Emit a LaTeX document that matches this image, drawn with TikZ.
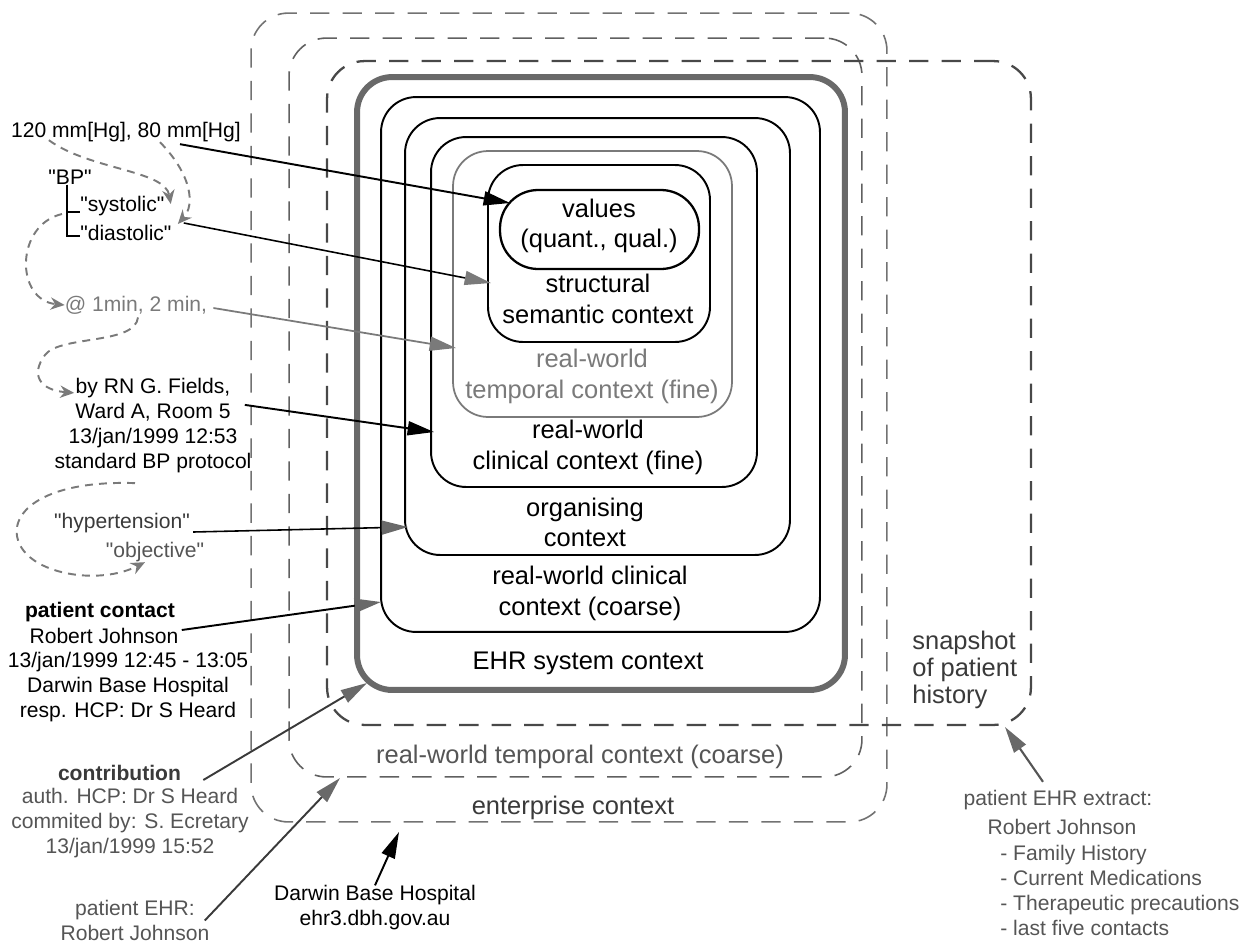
\documentclass[tikz,border=0pt]{standalone}
\usepackage{fontspec}
\setmainfont{Liberation Sans}
\usetikzlibrary{arrows.meta,calc}
\definecolor{dashA}{HTML}{727272}
\definecolor{dashB}{HTML}{606060}
\definecolor{dashC}{HTML}{484848}
\definecolor{thickgray}{HTML}{696969}
\definecolor{midgray}{HTML}{7A7A7A}
\definecolor{darkgrayB}{HTML}{3A3A3A}
\definecolor{txtgray}{HTML}{555555}
\newcommand{\qq}[1]{\textquotedbl#1\textquotedbl}
\begin{document}
\begin{tikzpicture}[x=0.02cm,y=-0.02cm,
  ctx/.style={draw=black,line width=1.1pt,rounded corners=0.7cm,inner sep=0pt},
  dbox/.style={draw=#1,line width=0.9pt,dash pattern=on 11pt off 7.5pt,rounded corners=0.75cm,inner sep=0pt},
  blab/.style={font=\fontsize{14.5}{17.5}\selectfont,align=center,inner sep=0pt},
  slab/.style={font=\fontsize{12}{14.2}\selectfont,align=center,inner sep=0pt},
  arrK/.style={line width=1.1pt,-{Triangle[length=15pt,width=8pt]}},
  dcurve/.style={draw=midgray,line width=1.1pt,dash pattern=on 4.5pt off 3.5pt,-{Stealth[length=8pt,width=7pt]}}
]
\useasboundingbox (0,0) rectangle (1254,947);

% ---- dashed context boxes
\node[dbox=dashA, minimum width=12.72cm, minimum height=16.18cm] (enterprise) at (569,417.5) {};
\node[dbox=dashB, minimum width=11.46cm, minimum height=14.78cm] (tempcoarse) at (575.5,407.5) {};
\node[dbox=dashC, line width=1.3pt, minimum width=14.08cm, minimum height=13.28cm] (snapshot) at (679,393) {};

% ---- solid context boxes
\node[ctx, draw=thickgray, line width=3.4pt, minimum width=9.76cm, minimum height=12.26cm] (ehr) at (601,383.5) {};
\node[ctx, minimum width=8.78cm, minimum height=10.70cm] (clincoarse) at (600.5,364.5) {};
\node[ctx, minimum width=7.70cm, minimum height=8.74cm] (organising) at (597.5,336.5) {};
\node[ctx, minimum width=6.52cm, minimum height=7.00cm] (clinfine) at (594,312) {};
\node[ctx, draw=midgray, line width=1pt, minimum width=5.58cm, minimum height=5.32cm] (tempfine) at (592.5,284) {};
\node[ctx, minimum width=4.44cm, minimum height=3.54cm] (structural) at (599,253.5) {};
\node[ctx, line width=1.3pt, rounded corners=0.76cm, minimum width=3.98cm, minimum height=1.58cm] (values) at (599.5,229.5) {};

% ---- box labels
\node[blab] (lval) at (599,226) {values\\(quant., qual.)};
\node[blab] (lstruct) at (598,299) {structural\\semantic context};
\node[blab, text=midgray] (ltfine) at (592,376.5) {real-world\\temporal context (fine)};
\node[blab] (lcfine) at (588,447.5) {real-world\\clinical context (fine)};
\node[blab] (lorg) at (585,522.5) {organising\\context};
\node[blab] (lccoarse) at (590,593.5) {real-world clinical\\context (coarse)};
\node[blab] (lehr) at (588,663) {EHR system context};
\node[blab, text=txtgray] (ltcoarse) at (580,757) {real-world temporal context (coarse)};
\node[blab, text=darkgrayB] (lent) at (573,808) {enterprise context};
\node[blab, text=darkgrayB, align=left, font=\fontsize{14.5}{15.4}\selectfont, anchor=west] (lsnap) at (912,670) {snapshot\\of patient\\history};

% ---- left side labels
\node[slab] (t120) at (126,132) {120 mm[Hg], 80 mm[Hg]};
\node[slab] (tbp) at (70,177) {\qq{BP}};
\node[slab, anchor=west] (tsys) at (80,206) {\qq{systolic}};
\node[slab, anchor=west] (tdia) at (80,233) {\qq{diastolic}};
\node[slab, text=midgray] (tmin) at (136,305) {@ 1min, 2 min,};
\node[slab] (tfields) at (153,425.5) {by RN G. Fields,\\Ward A, Room 5\\13/jan/1999 12:53\\standard BP protocol};
\node[slab, text=darkgrayB] (thyp) at (122,523) {\qq{hypertension}};
\node[slab, text=txtgray] (tobj) at (155,552) {\qq{objective}};
\node[slab, font=\fontsize{12}{14.2}\selectfont\bfseries] (tpc1) at (100,612) {patient contact};
\node[slab] (tpc2) at (104,636) {Robert Johnson};
\node[slab] (tpc3) at (128,687) {13/jan/1999 12:45 - 13:05\\Darwin Base Hospital\\resp. HCP: Dr S Heard};
\node[slab, text=darkgrayB, font=\fontsize{12}{14.2}\selectfont\bfseries] (tcon1) at (119.5,773) {contribution};
\node[slab, text=txtgray] (tcon2) at (130,823) {auth. HCP: Dr S Heard\\commited by: S. Ecretary\\13/jan/1999 15:52};
\node[slab, text=txtgray] (tehr) at (135,920.5) {patient EHR:\\Robert Johnson};
\node[slab] (tdbh) at (375,908) {Darwin Base Hospital\\ehr3.dbh.gov.au};
\node[slab, text=txtgray] (tx1) at (1058,800) {patient EHR extract:};
\node[slab, text=txtgray] (tx2) at (1062,827) {Robert Johnson};
\node[slab, text=txtgray, align=left, anchor=west] (tx3) at (1000,890.5) {- Family History\\- Current Medications\\- Therapeutic precautions\\- last five contacts};

% ---- BP tree
\draw[line width=0.8pt] ($(tbp.south)+(-3,0)$) |- ($(tdia.west)+(0,3)$);
\draw[line width=0.8pt] ($(tbp.south)+(-3,0)$) |- ($(tsys.west)+(0,6)$);

% ---- arrow tips
\coordinate (tipA) at (510,203);
\coordinate (tipB) at (491,283);
\coordinate (tipC) at (456,348);
\coordinate (tipD) at (434,432);
\coordinate (tipE) at (408,527);
\coordinate (tipF) at (381,602);
\coordinate (tipG) at (367,683);
\coordinate (tipH) at (340,778);
\coordinate (tipI) at (399,832);
\coordinate (tipJ) at (1005,727);

% ---- solid arrows
\draw[arrK] ($(t120.south)+(54,2)$) -- (tipA);
\draw[line width=0.9pt,-{Triangle[length=15pt,width=8pt,color=midgray]}] ($(tdia.east)+(12,-10)$) -- (tipB);
\draw[draw=midgray,line width=1pt,-{Triangle[length=15pt,width=8pt,color=midgray]}] ($(tmin.east)+(6,3)$) -- (tipC);
\draw[arrK] ($(tfields.north east)+(-7,27)$) -- (tipD);
\draw[line width=0.9pt,-{Triangle[length=15pt,width=8pt,color=thickgray]}] ($(thyp.east)+(3,9)$) -- (tipE);
\draw[line width=1.1pt,-{Triangle[length=15pt,width=8pt,color=thickgray]}] ($(tpc2.east)+(3,-6)$) -- (tipF);
\draw[draw=darkgrayB,line width=1.1pt,-{Triangle[length=15pt,width=8pt,color=thickgray]}] ($(tcon1.east)+(22,7)$) -- (tipG);
\draw[draw=darkgrayB,line width=1.1pt,-{Triangle[length=15pt,width=8pt,color=thickgray]}] ($(tehr.east)+(-5,0)$) -- (tipH);
\draw[arrK] (tdbh.north) -- (tipI);
\draw[draw=txtgray,line width=1.2pt,-{Triangle[length=15pt,width=8pt,color=thickgray]}] ($(tx1.north)+(-15,-8)$) -- (tipJ);

% ---- dashed curved connectors
\draw[dcurve] ($(t120.south west)+(38,-2)$) .. controls (90,170) and (165,170) .. ($(tsys.east)+(6,-2)$);
\draw[dcurve] ($(t120.south)+(34,0)$) .. controls (192,175) and (195,205) .. ($(tdia.east)+(6,-9)$);
\draw[dcurve] ($(tsys.west)+(-18,8)$) .. controls (15,225) and (15,300) .. (tmin.west);
\draw[dcurve] ($(tmin.south)+(2,3)$) .. controls (135,345) and (60,335) .. (45,355) .. controls (30,375) and (40,390) .. ($(tfields.north west)+(20,15)$);
\draw[dcurve] ($(tfields.south)+(-18,10)$) .. controls (40,480) and (5,515) .. (20,545) .. controls (35,575) and (100,585) .. ($(tobj.south)+(-10,0)$);
\end{tikzpicture}
\end{document}
